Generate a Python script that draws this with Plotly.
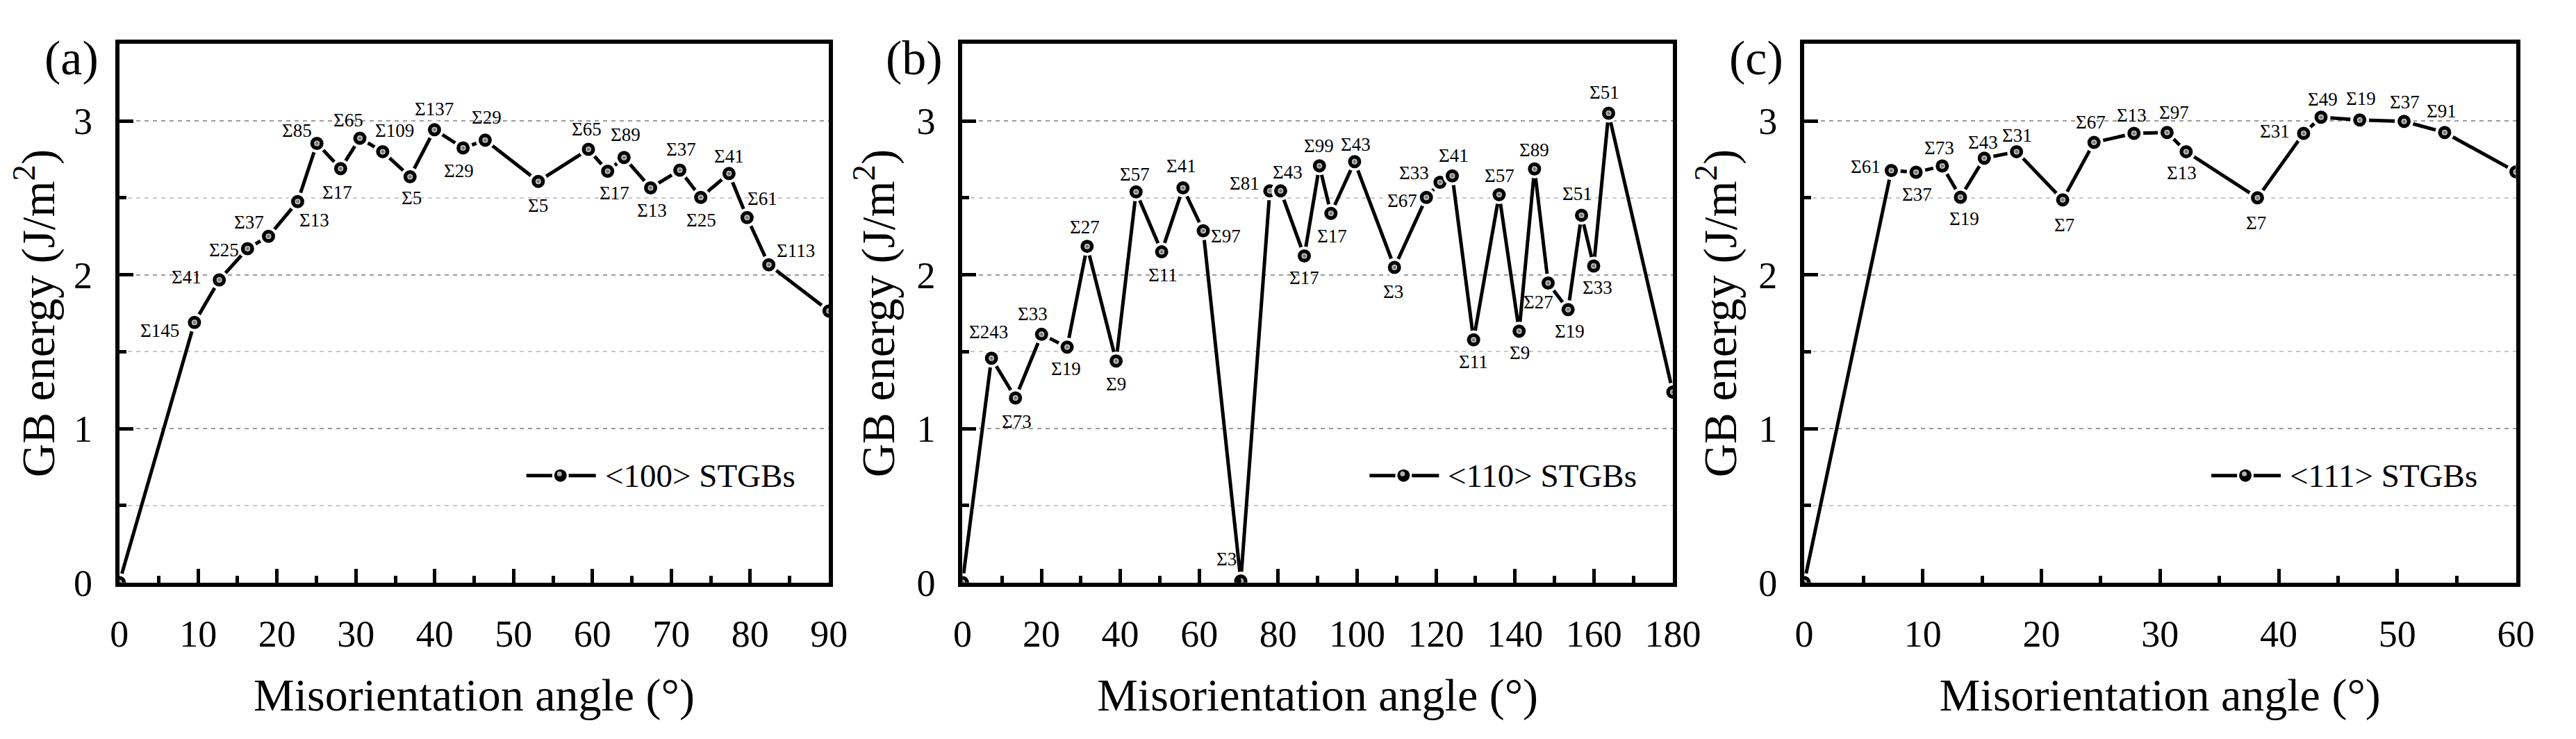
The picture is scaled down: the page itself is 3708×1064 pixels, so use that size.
import plotly.graph_objects as go

# ---- data: <100>, <110>, <111> symmetric tilt grain boundaries ----
angle_100 = [0, 9.53, 12.68, 16.26, 18.92, 22.62, 25.06, 28.07, 30.51, 33.40, 36.87, 39.97,
             43.60, 46.40, 53.13, 59.49, 61.93, 64.01, 67.38, 71.08, 73.74, 77.32, 79.61, 82.37, 90]
energy_100 = [0, 1.69, 1.967, 2.17, 2.25, 2.476, 2.854, 2.69, 2.887, 2.80, 2.637, 2.943,
              2.824, 2.875, 2.607, 2.815, 2.673, 2.762, 2.565, 2.68, 2.503, 2.658, 2.372, 2.065, 1.765]
sigma_100 = ["", "Σ145", "Σ41", "Σ25", "Σ37", "Σ13", "Σ85", "Σ17", "Σ65", "Σ109", "Σ5", "Σ137",
             "Σ29", "Σ29", "Σ5", "Σ65", "Σ17", "Σ89", "Σ13", "Σ37", "Σ25", "Σ41", "Σ61", "Σ113", ""]

angle_110 = [0, 7.36, 13.44, 20.05, 26.53, 31.59, 38.94, 44.00, 50.48, 55.88, 61.02, 70.53,
             77.88, 80.63, 86.63, 90.46, 93.37, 99.37, 109.47, 117.56, 121.01, 124.12, 129.52,
             135.99, 141.06, 144.96, 148.41, 153.47, 156.87, 159.95, 163.73, 180]
energy_110 = [0, 1.458, 1.199, 1.613, 1.53, 2.185, 1.44, 2.539, 2.149, 2.565, 2.286, 0.01,
              2.545, 2.545, 2.122, 2.708, 2.399, 2.735, 2.048, 2.503, 2.601, 2.643, 1.577,
              2.521, 1.634, 2.688, 1.946, 1.774, 2.387, 2.057, 3.05, 1.238]
sigma_110 = ["", "Σ243", "Σ73", "Σ33", "Σ19", "Σ27", "Σ9", "Σ57", "Σ11", "Σ41", "Σ97", "Σ3",
             "Σ81", "Σ43", "Σ17", "Σ99", "Σ17", "Σ43", "Σ3", "Σ67", "Σ33", "Σ41", "Σ11",
             "Σ57", "Σ9", "Σ89", "Σ27", "Σ19", "Σ51", "Σ33", "Σ51", ""]

angle_111 = [0, 7.34, 9.43, 11.64, 13.17, 15.18, 17.90, 21.79, 24.43, 27.80, 30.59, 32.20,
             38.21, 42.10, 43.57, 46.83, 50.57, 53.99, 60]
energy_111 = [0, 2.678, 2.666, 2.707, 2.504, 2.758, 2.80, 2.487, 2.860, 2.919, 2.925, 2.80,
              2.50, 2.919, 3.024, 3.006, 2.997, 2.925, 2.669]
sigma_111 = ["", "Σ61", "Σ37", "Σ73", "Σ19", "Σ43", "Σ31", "Σ7", "Σ67", "Σ13", "Σ97", "Σ13",
             "Σ7", "Σ31", "Σ49", "Σ19", "Σ37", "Σ91", ""]

series_names = ["<100> STGBs", "<110> STGBs", "<111> STGBs"]
panel_tags = ["(a)", "(b)", "(c)"]
x_max = [90, 180, 60]
x_dtick = [10, 20, 10]

# label placement (pixel offsets from the point), style only
dx_100 = [0, -50, -47, -34, -28, 24, -29, -5, -17, 17, 2, 0, -6, 2, 0, -2, 10, 2, 2, 2, 1, 0, 22, 39, 0]
dy_100 = [0, -12, 4, -2, 20, -27, 18, -34, 26, 30, -31, 30, -33, 33, -35, 29, -31, 33, -33, 30, -33, 25, 27, 20, 0]
dx_110 = [0, -4, 2, -13, -2, -3, 0, -2, 2, -2, 32, -21, -36, 10, 0, -1, 2, 2, -2, -35, -37, 2,
          0, 1, 1, 0, -14, 2, -6, 5, -6, 0]
dy_110 = [0, 38, -34, 29, -31, 28, -33, 25, -33, 31, -8, 31, 11, 27, -31, 29, -33, 25, -35, -5, 13, 29,
          -32, 27, -31, 27, -27, -31, 31, -31, 30, 0]
dx_111 = [0, -37, 1, -4, 6, -2, 1, 2, -5, -3, 10, -6, -2, -41, 2, 2, 1, -4, 0]
dy_111 = [0, 5, -32, 26, -31, 23, 23, -36, 29, 26, 29, -31, -36, 3, 26, 31, 28, 31, 0]

panels = [
    (angle_100, energy_100, sigma_100, dx_100, dy_100),
    (angle_110, energy_110, sigma_110, dx_110, dy_110),
    (angle_111, energy_111, sigma_111, dx_111, dy_111),
]

# page is 3708x1064, the html body keeps its 8px margin -> work in page pixels
PAD = 8
W, H = 3708 - 2 * PAD, 1064 - 2 * PAD
FONT = "Liberation Serif"


def px_x(p):
    return (p - PAD) / W


def px_y(p):
    return 1 - (p - PAD) / H


x_pix = [[160, 1197], [1392, 2430], [2622, 3662]]
x_domains = [[px_x(a), px_x(b)] for a, b in x_pix]
y_domain = [px_y(864), px_y(65)]

fig = go.Figure()
annotations = []
shapes = []

for i, (xs, ys, labels, dxs, dys) in enumerate(panels):
    n = "" if i == 0 else str(i + 1)
    xr, yr = "x" + n, "y" + n

    fig.add_trace(go.Scatter(
        x=xs, y=ys, mode="lines+markers", name=series_names[i], showlegend=False,
        xaxis=xr, yaxis=yr,
        line=dict(color="black", width=5),
        marker=dict(size=23, color="black", line=dict(color="white", width=4)),
    ))
    # small highlight so the markers look like little balls
    fig.add_trace(go.Scatter(
        x=xs, y=ys, mode="markers", showlegend=False, hoverinfo="skip",
        xaxis=xr, yaxis=yr,
        marker=dict(size=8, color="#d8d8d8", line=dict(width=0),
                    gradient=dict(type="radial", color="#505050")),
    ))

    for xv, yv, lab, dx, dy in zip(xs, ys, labels, dxs, dys):
        if lab == "":
            continue
        annotations.append(dict(
            x=xv, y=yv, xref=xr, yref=yr, text=lab, showarrow=False,
            xshift=dx, yshift=dy, xanchor="center", yanchor="middle",
            font=dict(family=FONT, size=27, color="black"),
        ))

    fig.layout["xaxis" + n] = dict(
        domain=x_domains[i], anchor=yr, range=[0, x_max[i]], dtick=x_dtick[i], tick0=0,
        showline=True, linecolor="black", linewidth=6, mirror=True,
        ticks="inside", ticklen=20, tickwidth=5, tickcolor="black",
        minor=dict(ticks="inside", ticklen=10, tickwidth=5, tickcolor="black",
                   dtick=x_dtick[i] / 2, showgrid=False),
        showgrid=False, zeroline=False, ticklabelstandoff=22,
        tickfont=dict(family=FONT, size=54, color="black"),
        title=dict(text="Misorientation angle (°)", standoff=36,
                   font=dict(family=FONT, size=66, color="black")),
    )
    fig.layout["yaxis" + n] = dict(
        domain=y_domain, anchor=xr, range=[0, 3.5], dtick=1, tick0=0,
        showline=True, linecolor="black", linewidth=6, mirror=True,
        ticks="inside", ticklen=20, tickwidth=5, tickcolor="black",
        minor=dict(ticks="inside", ticklen=10, tickwidth=5, tickcolor="black", dtick=0.5,
                   showgrid=True, gridcolor="#c8c8c8", gridwidth=1.5, griddash="6px,6px"),
        showgrid=True, gridcolor="#9a9a9a", gridwidth=1.5, griddash="6px,6px",
        zeroline=False, ticklabelstandoff=22,
        tickfont=dict(family=FONT, size=54, color="black"),
        title=dict(text="GB energy (J/m<sup>2</sup>)", standoff=12,
                   font=dict(family=FONT, size=67, color="black")),
    )

    left_px = x_pix[i][0]
    # panel tag
    annotations.append(dict(
        x=px_x(left_px - 70), y=px_y(86), xref="paper", yref="paper",
        text=panel_tags[i], showarrow=False, xanchor="center", yanchor="middle",
        font=dict(family=FONT, size=70, color="black"),
    ))

    # hand drawn legend entry (line + ball + text)
    common = dict(xref=xr + " domain", yref=yr + " domain", xsizemode="pixel", ysizemode="pixel",
                  xanchor=0, yanchor=0)
    shapes.append(dict(type="line", x0=586, x1=686, y0=154, y1=154,
                       line=dict(color="black", width=5), **common))
    shapes.append(dict(type="circle", x0=623, x1=647, y0=142, y1=166,
                       fillcolor="white", line=dict(width=0), **common))
    shapes.append(dict(type="circle", x0=626, x1=644, y0=145, y1=163,
                       fillcolor="black", line=dict(width=0), **common))
    shapes.append(dict(type="circle", x0=630, x1=637, y0=153, y1=160,
                       fillcolor="#b0b0b0", line=dict(width=0), **common))
    annotations.append(dict(
        x=0, y=0, xref=xr + " domain", yref=yr + " domain", xshift=697, yshift=154,
        text=series_names[i].replace("<", "&lt;").replace(">", "&gt;"), showarrow=False,
        xanchor="left", yanchor="middle",
        font=dict(family=FONT, size=47, color="black"),
    ))

fig.update_layout(
    width=W, height=H, autosize=False,
    margin=dict(l=0, r=0, t=0, b=0),
    paper_bgcolor="white", plot_bgcolor="white",
    showlegend=False,
    annotations=annotations,
    shapes=shapes,
)

fig.write_html("out.html")
